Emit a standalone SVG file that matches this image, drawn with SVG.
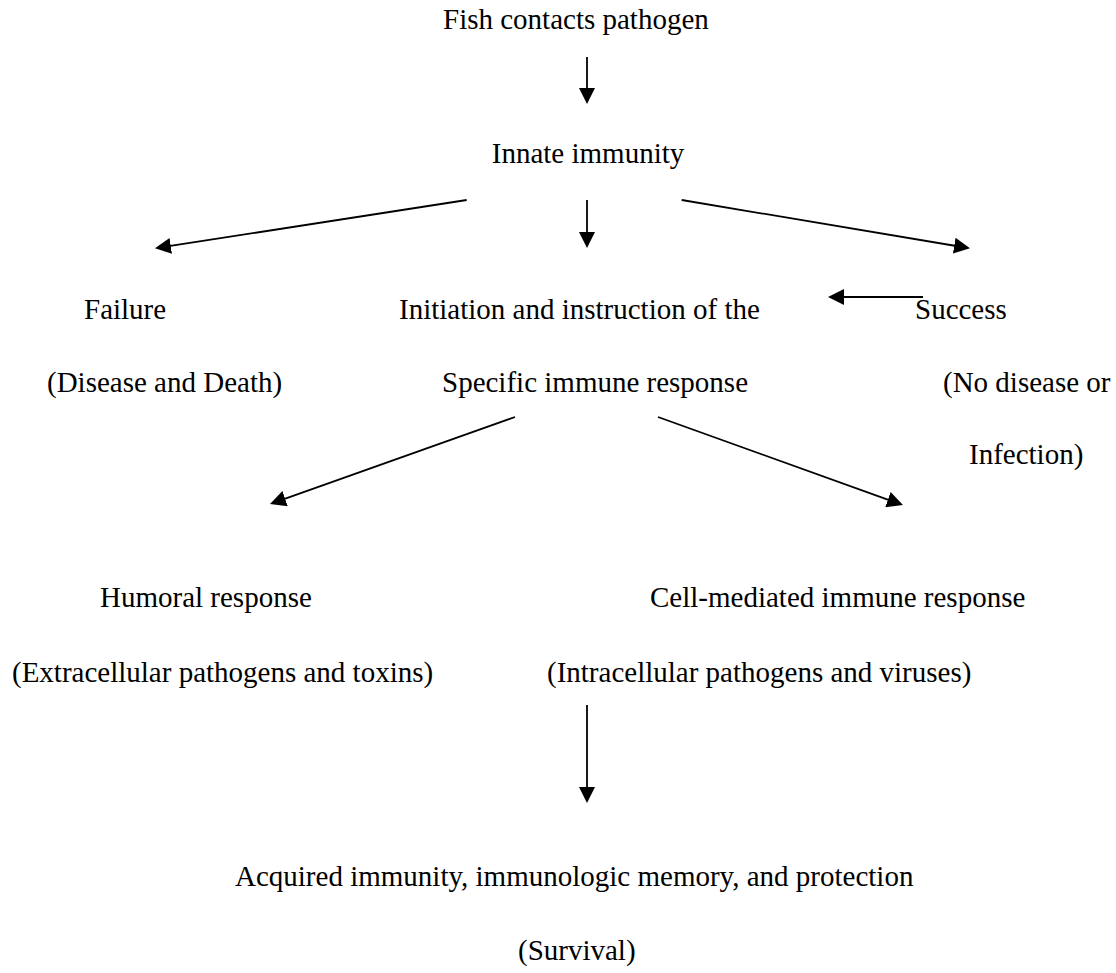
<svg xmlns="http://www.w3.org/2000/svg" width="1116" height="973" viewBox="0 0 1116 973">
<style>
text{font-family:"Liberation Serif","Times New Roman",serif;font-size:29px;fill:#000}
.c line{stroke:#000;stroke-width:1.8;fill:none}
</style>
<defs>
<marker id="ah" viewBox="0 0 16 16" markerUnits="userSpaceOnUse" markerWidth="16" markerHeight="16" refX="2" refY="8" orient="auto"><path d="M0,0 L16,8 L0,16 z" fill="#000"/></marker>
</defs>
<rect width="1116" height="973" fill="#fff"/>
<g id="n-fish"><text x="443" y="29">Fish contacts pathogen</text></g>
<g id="n-innate"><text x="588" y="163" text-anchor="middle">Innate immunity</text></g>
<g id="n-failure"><text x="84" y="319">Failure</text><text x="47" y="392">(Disease and Death)</text></g>
<g id="n-initiation"><text x="399" y="319">Initiation and instruction of the</text><text x="442" y="392">Specific immune response</text></g>
<g id="n-success"><text x="915" y="319">Success</text><text x="943" y="392">(No disease or</text><text x="969" y="464">Infection)</text></g>
<g id="n-humoral"><text x="100" y="607">Humoral response</text><text x="12" y="682">(Extracellular pathogens and toxins)</text></g>
<g id="n-cell"><text x="650" y="607">Cell-mediated immune response</text><text x="547" y="682">(Intracellular pathogens and viruses)</text></g>
<g id="n-acquired"><text x="235" y="886">Acquired immunity, immunologic memory, and protection</text><text x="518" y="960">(Survival)</text></g>
<g id="connectors" class="c">
<line x1="587" y1="57" x2="587" y2="90" marker-end="url(#ah)"/>
<line x1="587" y1="200" x2="587" y2="234" marker-end="url(#ah)"/>
<line x1="466.7" y1="200" x2="168.8" y2="246.2" marker-end="url(#ah)"/>
<line x1="681.7" y1="200" x2="956.2" y2="246" marker-end="url(#ah)"/>
<line x1="923" y1="297" x2="842" y2="297" marker-end="url(#ah)"/>
<line x1="515" y1="417" x2="283.2" y2="499.3" marker-end="url(#ah)"/>
<line x1="658" y1="417" x2="889.8" y2="500.3" marker-end="url(#ah)"/>
<line x1="587" y1="705" x2="587" y2="789" marker-end="url(#ah)"/>
</g>
</svg>
